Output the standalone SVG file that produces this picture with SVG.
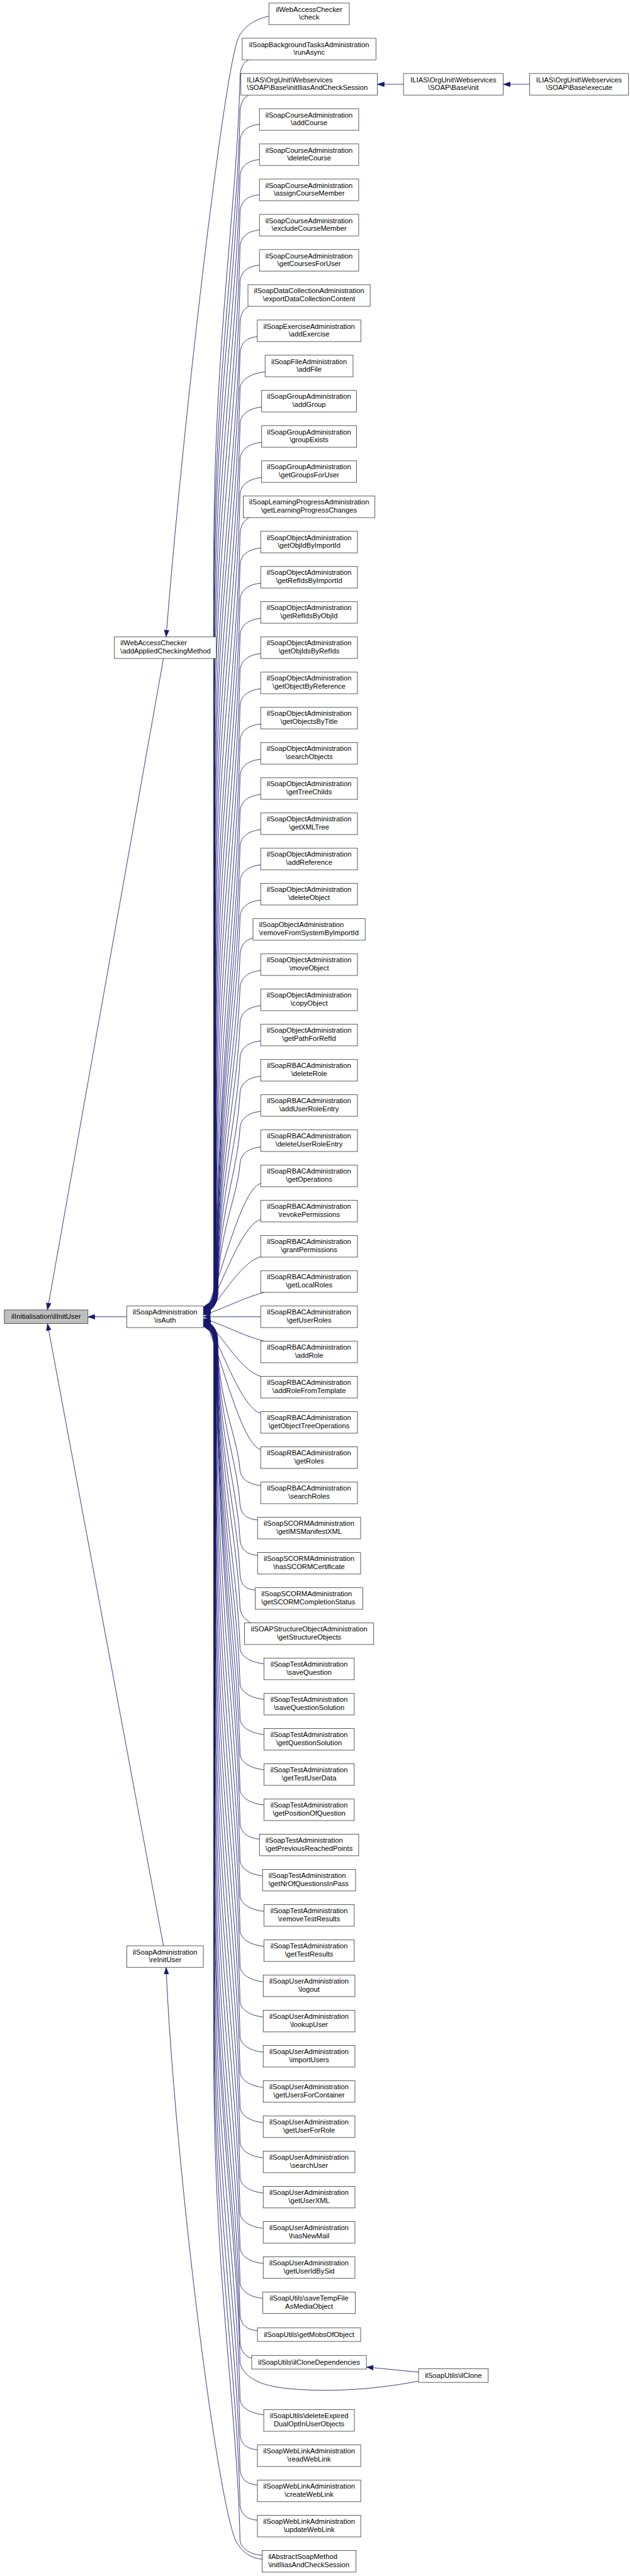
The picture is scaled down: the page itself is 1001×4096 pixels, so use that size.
<svg xmlns="http://www.w3.org/2000/svg" width="1001" height="4096" viewBox="0 0 1001 4096">
<style>
.nd rect{fill:#fff;stroke:#404040;stroke-width:1}
.rt rect{fill:#bfbfbf}
.nd text{font-family:"Liberation Sans",Arial,Helvetica,sans-serif;font-size:13.1px;fill:#000;text-anchor:middle}
.nd text.l{text-anchor:start}
#edges path{fill:none;stroke:#191970;stroke-width:1;marker-end:url(#ah)}
</style>
<defs>
<marker id="ah" viewBox="0 0 10 7" refX="10" refY="3.5" markerWidth="13" markerHeight="9.1" markerUnits="userSpaceOnUse" orient="auto">
<path d="M0,0L10,3.5L0,7z" fill="#191970" stroke="#191970" stroke-width="0.5"/>
</marker>
</defs>
<rect width="1001" height="4096" fill="#fff"/>
<g transform="scale(0.85705)">
<g id="edges">
<path d="M982,156.4L933,156.4"/>
<path d="M748,156.4L699.5,156.4"/>
<path d="M498.5,30C470,36 448,52 440,75C410,170 336,820 308,1181.7"/>
<path d="M303,1221.7L88,2430.3"/>
<path d="M235,2443L163,2443"/>
<path d="M303,3610L88,2455.6"/>
<path d="M486,4748C460,4746 440,4728 432,4700C390,4560 320,3950 308,3650"/>
<path d="M776,4401L679.3,4391.5"/>
<path d="M461,111C452,116 446,124 445,141C440,384 396.3,636 396.3,1041L396.3,2385C396.3,2410 390,2421 377,2425"/>
<path d="M461,176.4C452,181.4 446,189.4 445,206.4C440,449.4 396.5,701.4 396.5,1106.4L396.5,2385.4C396.5,2410.4 390,2421.4 377,2425.4"/>
<path d="M481,230.7C459,232.7 447,242.7 445,260.7C440,503.7 396.8,755.7 396.8,1160.7L396.8,2385.8C396.8,2410.8 390,2421.8 377,2425.8"/>
<path d="M481,296C459,298 447,308 445,326C440,569 397,821 397,1226L397,2386.2C397,2411.2 390,2422.2 377,2426.2"/>
<path d="M481,361.3C459,363.3 447,373.3 445,391.3C440,634.3 397.3,886.3 397.3,1291.3L397.3,2386.6C397.3,2411.6 390,2422.6 377,2426.6"/>
<path d="M481,426.7C459,428.7 447,438.7 445,456.7C440,699.7 397.5,951.7 397.5,1356.7L397.5,2387C397.5,2412 390,2423 377,2427"/>
<path d="M481,492C459,494 447,504 445,522C440,765 397.8,1017 397.8,1422L397.8,2387.4C397.8,2412.4 390,2423.4 377,2427.4"/>
<path d="M461,568.3C452,573.3 446,581.3 445,598.3C440,841.3 398,1093.3 398,1498.3L398,2387.8C398,2412.8 390,2423.8 377,2427.8"/>
<path d="M477,624.7C455,626.7 447,636.7 445,654.7C440,897.7 398.3,1149.7 398.3,1554.7L398.3,2388.2C398.3,2413.2 390,2424.2 377,2428.2"/>
<path d="M491.5,690C469.5,692 447,702 445,720C440,963 398.5,1215 398.5,1620L398.5,2388.6C398.5,2413.6 390,2424.6 377,2428.6"/>
<path d="M485,755.3C463,757.3 447,767.3 445,785.3C440,1028.3 398.8,1280.3 398.8,1685.3L398.8,2389C398.8,2414 390,2425 377,2429"/>
<path d="M485,820.7C463,822.7 447,832.7 445,850.7C440,1093.7 399,1345.7 399,1750.7L399,2389.4C399,2414.4 390,2425.4 377,2429.4"/>
<path d="M485,886C463,888 447,898 445,916C440,1159 399.3,1411 399.3,1816L399.3,2389.8C399.3,2414.8 390,2425.8 377,2429.8"/>
<path d="M462,960.3C453,965.3 446,973.3 445,990.3C440,1233.3 399.5,1485.3 399.5,1890.3L399.5,2390.2C399.5,2415.2 390,2426.2 377,2430.2"/>
<path d="M483.3,1016.7C461.3,1018.7 447,1028.7 445,1046.7C440,1289.7 399.8,1541.7 399.8,1946.7L399.8,2390.6C399.8,2415.6 390,2426.6 377,2430.6"/>
<path d="M483.3,1082C461.3,1084 447,1094 445,1112C440,1355 400,1607 400,2012L400,2391C400,2416 390,2427 377,2431"/>
<path d="M483.3,1147.3C461.3,1149.3 447,1159.3 445,1177.3C440,1420.3 400.3,1672.3 400.3,2077.3L400.3,2391.4C400.3,2416.4 390,2427.4 377,2431.4"/>
<path d="M483.3,1212.7C461.3,1214.7 447,1224.7 445,1242.7C440,1485.7 400.5,1737.7 400.5,2142.7L400.5,2391.8C400.5,2416.8 390,2427.8 377,2431.8"/>
<path d="M483.3,1278C461.3,1280 447,1290 445,1308C440,1551 400.8,1803 400.8,2208L400.8,2392.2C400.8,2417.2 390,2428.2 377,2432.2"/>
<path d="M483.3,1343.3C461.3,1345.3 447,1355.3 445,1373.3C440,1616.3 401,1868.3 401,2273.3L401,2392.6C401,2417.6 390,2428.6 377,2432.6"/>
<path d="M483.3,1408.7C461.3,1410.7 447,1420.7 445,1438.7C440,1681.7 401.3,1933.7 401.3,2338.7L401.3,2393C401.3,2418 390,2429 377,2433"/>
<path d="M483.3,1474C461.3,1476 447,1486 445,1504C440,1744.1 401.5,1993.2 401.5,2393.4C401.5,2418.4 390,2429.4 377,2433.4"/>
<path d="M483.3,1539.3C461.3,1541.3 447,1551.3 445,1569.3C440,1791.9 401.8,2022.8 401.8,2393.8C401.8,2418.8 390,2429.8 377,2433.8"/>
<path d="M483.3,1604.7C461.3,1606.7 447,1616.7 445,1634.7C440,1839.8 402,2052.4 402,2394.2C402,2419.2 390,2430.2 377,2434.2"/>
<path d="M483.3,1670C461.3,1672 447,1682 445,1700C440,1887.5 402.3,2082 402.3,2394.6C402.3,2419.6 390,2430.6 377,2434.6"/>
<path d="M469,1740C455,1744 447,1752 445,1770C440,1938.8 402.5,2113.8 402.5,2395C402.5,2420 390,2431 377,2435"/>
<path d="M483.3,1800.7C461.3,1802.7 447,1812.7 445,1830.7C440,1983.2 402.8,2141.3 402.8,2395.4C402.8,2420.4 390,2431.4 377,2435.4"/>
<path d="M483.3,1866C461.3,1868 447,1878 445,1896C440,2031 403,2170.9 403,2395.8C403,2420.8 390,2431.8 377,2435.8"/>
<path d="M483.3,1931.3C461.3,1933.3 447,1943.3 445,1961.3C440,2078.7 403.3,2200.5 403.3,2396.2C403.3,2421.2 390,2432.2 377,2436.2"/>
<path d="M483.3,1996.7C461.3,1998.7 447,2008.7 445,2026.7C440,2126.6 403.5,2230.1 403.5,2396.6C403.5,2421.6 390,2432.6 377,2436.6"/>
<path d="M483.3,2062C461.3,2064 447,2074 445,2092C440,2174.4 403.8,2259.8 403.8,2397C403.8,2422 390,2433 377,2437"/>
<path d="M483.3,2128C461.3,2130 447,2140 445,2158C440,2222.6 404,2289.7 404,2397.4C404,2422.4 390,2433.4 377,2437.4"/>
<path d="M483.3,2195.7C443.3,2205.7 400,2413.6 377,2437.8"/>
<path d="M483.3,2262.7C443.3,2272.7 400,2420.6 377,2438.2"/>
<path d="M483.3,2331.7C443.3,2341.7 400,2427.9 377,2438.6"/>
<path d="M490,2397.7C450,2407.7 400,2434.9 377,2439"/>
<path d="M483.3,2443L377,2443"/>
<path d="M490,2488.3C450,2478.3 400,2451.1 377,2447"/>
<path d="M484,2553.7C444,2543.7 400,2458 377,2447.4"/>
<path d="M483.3,2622C443.3,2612 400,2465.2 377,2447.8"/>
<path d="M483.3,2689.3C443.3,2679.3 400,2472.3 377,2448.2"/>
<path d="M483.3,2756C461.3,2754 447,2744 445,2728C440,2663.4 403.8,2596.3 403.8,2488.6C403.8,2463.6 390,2452.6 377,2448.6"/>
<path d="M477.5,2820C455.5,2818 447,2808 445,2792C440,2710.2 403.5,2625.3 403.5,2489C403.5,2464 390,2453 377,2449"/>
<path d="M477.5,2885.6C455.5,2883.6 447,2873.6 445,2857.6C440,2758.2 403.3,2655.1 403.3,2489.4C403.3,2464.4 390,2453.4 377,2449.4"/>
<path d="M473.3,2950C451.3,2948 447,2938 445,2922C440,2805.3 403,2684.3 403,2489.8C403,2464.8 390,2453.8 377,2449.8"/>
<path d="M465,3011C455,3005 447,2998 445,2983C440,2849.9 402.8,2712 402.8,2490.2C402.8,2465.2 390,2454.2 377,2450.2"/>
<path d="M489.3,3086.7C467.3,3084.7 447,3074.7 445,3058.7C440,2905.3 402.5,2746.2 402.5,2490.6C402.5,2465.6 390,2454.6 377,2450.6"/>
<path d="M489.3,3152.7C467.3,3150.7 447,3140.7 445,3124.7C440,2953.6 402.3,2776.2 402.3,2491C402.3,2466 390,2455 377,2451"/>
<path d="M489.3,3218C467.3,3216 447,3206 445,3190C440,3001.4 402,2805.8 402,2491.4C402,2466.4 390,2455.4 377,2451.4"/>
<path d="M489.3,3283.3C467.3,3281.3 447,3271.3 445,3255.3C440,3049.2 401.8,2835.4 401.8,2491.8C401.8,2466.8 390,2455.8 377,2451.8"/>
<path d="M489.3,3348.7C467.3,3346.7 447,3336.7 445,3320.7C440,3097 401.5,2865 401.5,2492.2C401.5,2467.2 390,2456.2 377,2452.2"/>
<path d="M481,3412C459,3410 447,3400 445,3384C440,3143.3 401.3,2893.7 401.3,2492.6C401.3,2467.6 390,2456.6 377,2452.6"/>
<path d="M486.7,3480C464.7,3478 447,3468 445,3452C440,3209 401,2957 401,2552L401,2493C401,2468 390,2457 377,2453"/>
<path d="M489.3,3546C467.3,3544 447,3534 445,3518C440,3275 400.8,3023 400.8,2618L400.8,2493.4C400.8,2468.4 390,2457.4 377,2453.4"/>
<path d="M489.3,3611C467.3,3609 447,3599 445,3583C440,3340 400.5,3088 400.5,2683L400.5,2493.8C400.5,2468.8 390,2457.8 377,2453.8"/>
<path d="M488,3676.6C466,3674.6 447,3664.6 445,3648.6C440,3405.6 400.3,3153.6 400.3,2748.6L400.3,2494.2C400.3,2469.2 390,2458.2 377,2454.2"/>
<path d="M488,3742C466,3740 447,3730 445,3714C440,3471 400,3219 400,2814L400,2494.6C400,2469.6 390,2458.6 377,2454.6"/>
<path d="M488,3807.3C466,3805.3 447,3795.3 445,3779.3C440,3536.3 399.8,3284.3 399.8,2879.3L399.8,2495C399.8,2470 390,2459 377,2455"/>
<path d="M488,3872.6C466,3870.6 447,3860.6 445,3844.6C440,3601.6 399.5,3349.6 399.5,2944.6L399.5,2495.4C399.5,2470.4 390,2459.4 377,2455.4"/>
<path d="M488,3938C466,3936 447,3926 445,3910C440,3667 399.3,3415 399.3,3010L399.3,2495.8C399.3,2470.8 390,2459.8 377,2455.8"/>
<path d="M488,4003.3C466,4001.3 447,3991.3 445,3975.3C440,3732.3 399,3480.3 399,3075.3L399,2496.2C399,2471.2 390,2460.2 377,2456.2"/>
<path d="M488,4068.6C466,4066.6 447,4056.6 445,4040.6C440,3797.6 398.8,3545.6 398.8,3140.6L398.8,2496.6C398.8,2471.6 390,2460.6 377,2456.6"/>
<path d="M488,4134C466,4132 447,4122 445,4106C440,3863 398.5,3611 398.5,3206L398.5,2497C398.5,2472 390,2461 377,2457"/>
<path d="M488,4199.3C466,4197.3 447,4187.3 445,4171.3C440,3928.3 398.3,3676.3 398.3,3271.3L398.3,2497.4C398.3,2472.4 390,2461.4 377,2457.4"/>
<path d="M487.3,4264C465.3,4262 447,4252 445,4236C440,3993 398,3741 398,3336L398,2497.8C398,2472.8 390,2461.8 377,2457.8"/>
<path d="M477.3,4324C455.3,4322 447,4312 445,4296C440,4053 397.8,3801 397.8,3396L397.8,2498.2C397.8,2473.2 390,2462.2 377,2458.2"/>
<path d="M466.7,4375C455,4373 447,4363 445,4347C440,4104 397.5,3852 397.5,3447L397.5,2498.6C397.5,2473.6 390,2462.6 377,2458.6"/>
<path d="M776,4417.7C690,4434 610,4438 540,4432C490,4428 455,4415 445,4385C440,4142 397.4,3890 397.4,3485L397.4,2498.8C397.4,2473.8 390,2462.8 377,2458.8"/>
<path d="M489,4480C467,4478 447,4468 445,4452C440,4209 397.3,3957 397.3,3552L397.3,2499C397.3,2474 390,2463 377,2459"/>
<path d="M477.2,4545C455.2,4543 447,4533 445,4517C440,4274 397,4022 397,3617L397,2499.4C397,2474.4 390,2463.4 377,2459.4"/>
<path d="M477.2,4610.3C455.2,4608.3 447,4598.3 445,4582.3C440,4339.3 396.8,4087.3 396.8,3682.3L396.8,2499.8C396.8,2474.8 390,2463.8 377,2459.8"/>
<path d="M477.2,4675.7C455.2,4673.7 447,4663.7 445,4647.7C440,4404.7 396.5,4152.7 396.5,3747.7L396.5,2500.2C396.5,2475.2 390,2464.2 377,2460.2"/>
<path d="M486,4741C464,4739 447,4729 445,4713C440,4470 396.3,4218 396.3,3813L396.3,2500.6C396.3,2475.6 390,2464.6 377,2460.6"/>
</g>
<g id="nRoot" class="nd rt"><rect x="8" y="2430.3" width="155" height="25.3"/><text x="85.5" y="2447.3">ilInitialisation\ilInitUser</text></g>
<g id="nAddApplied" class="nd"><rect x="212" y="1181.7" width="189" height="40"/><text class="l" x="223.2" y="1197.7">ilWebAccessChecker</text><text class="l" x="223.2" y="1212.2">\addAppliedCheckingMethod</text></g>
<g id="nIsAuth" class="nd"><rect x="235" y="2423" width="142" height="40"/><text x="306" y="2439">ilSoapAdministration</text><text x="306" y="2453.5">\isAuth</text></g>
<g id="nReInit" class="nd"><rect x="235" y="3610" width="142" height="40"/><text x="306" y="3626">ilSoapAdministration</text><text x="306" y="3640.5">\reInitUser</text></g>
<g id="nInit" class="nd"><rect x="748" y="136.4" width="185" height="40"/><text x="840.5" y="152.4">ILIAS\OrgUnit\Webservices</text><text x="840.5" y="166.9">\SOAP\Base\init</text></g>
<g id="nExecute" class="nd"><rect x="982" y="136.4" width="183" height="40"/><text x="1073.5" y="152.4">ILIAS\OrgUnit\Webservices</text><text x="1073.5" y="166.9">\SOAP\Base\execute</text></g>
<g id="nClone" class="nd"><rect x="776" y="4394.7" width="129" height="25.3"/><text x="840.5" y="4411.7">ilSoapUtils\ilClone</text></g>
<g id="n0" class="nd"><rect x="498.5" y="5.7" width="149" height="40"/><text x="573" y="21.7">ilWebAccessChecker</text><text x="573" y="36.2">\check</text></g>
<g id="n1" class="nd"><rect x="449" y="71" width="248" height="40"/><text x="573" y="87">ilSoapBackgroundTasksAdministration</text><text x="573" y="101.5">\runAsync</text></g>
<g id="n2" class="nd"><rect x="446.5" y="136.4" width="253" height="40"/><text class="l" x="457.7" y="152.4">ILIAS\OrgUnit\Webservices</text><text class="l" x="457.7" y="166.9">\SOAP\Base\initIliasAndCheckSession</text></g>
<g id="n3" class="nd"><rect x="481" y="201.7" width="184" height="40"/><text x="573" y="217.7">ilSoapCourseAdministration</text><text x="573" y="232.2">\addCourse</text></g>
<g id="n4" class="nd"><rect x="481" y="267" width="184" height="40"/><text x="573" y="283">ilSoapCourseAdministration</text><text x="573" y="297.5">\deleteCourse</text></g>
<g id="n5" class="nd"><rect x="481" y="332.3" width="184" height="40"/><text x="573" y="348.3">ilSoapCourseAdministration</text><text x="573" y="362.8">\assignCourseMember</text></g>
<g id="n6" class="nd"><rect x="481" y="397.7" width="184" height="40"/><text x="573" y="413.7">ilSoapCourseAdministration</text><text x="573" y="428.2">\excludeCourseMember</text></g>
<g id="n7" class="nd"><rect x="481" y="463" width="184" height="40"/><text x="573" y="479">ilSoapCourseAdministration</text><text x="573" y="493.5">\getCoursesForUser</text></g>
<g id="n8" class="nd"><rect x="459.7" y="528.3" width="226.6" height="40"/><text x="573" y="544.3">ilSoapDataCollectionAdministration</text><text x="573" y="558.8">\exportDataCollectionContent</text></g>
<g id="n9" class="nd"><rect x="477" y="593.7" width="192" height="40"/><text x="573" y="609.7">ilSoapExerciseAdministration</text><text x="573" y="624.2">\addExercise</text></g>
<g id="n10" class="nd"><rect x="491.5" y="659" width="163" height="40"/><text x="573" y="675">ilSoapFileAdministration</text><text x="573" y="689.5">\addFile</text></g>
<g id="n11" class="nd"><rect x="485" y="724.3" width="176" height="40"/><text x="573" y="740.3">ilSoapGroupAdministration</text><text x="573" y="754.8">\addGroup</text></g>
<g id="n12" class="nd"><rect x="485" y="789.7" width="176" height="40"/><text x="573" y="805.7">ilSoapGroupAdministration</text><text x="573" y="820.2">\groupExists</text></g>
<g id="n13" class="nd"><rect x="485" y="855" width="176" height="40"/><text x="573" y="871">ilSoapGroupAdministration</text><text x="573" y="885.5">\getGroupsForUser</text></g>
<g id="n14" class="nd"><rect x="451" y="920.3" width="244" height="40"/><text x="573" y="936.3">ilSoapLearningProgressAdministration</text><text x="573" y="950.8">\getLearningProgressChanges</text></g>
<g id="n15" class="nd"><rect x="483.3" y="985.7" width="179.4" height="40"/><text x="573" y="1001.7">ilSoapObjectAdministration</text><text x="573" y="1016.2">\getObjIdByImportId</text></g>
<g id="n16" class="nd"><rect x="483.3" y="1051" width="179.4" height="40"/><text x="573" y="1067">ilSoapObjectAdministration</text><text x="573" y="1081.5">\getRefIdsByImportId</text></g>
<g id="n17" class="nd"><rect x="483.3" y="1116.3" width="179.4" height="40"/><text x="573" y="1132.3">ilSoapObjectAdministration</text><text x="573" y="1146.8">\getRefIdsByObjId</text></g>
<g id="n18" class="nd"><rect x="483.3" y="1181.7" width="179.4" height="40"/><text x="573" y="1197.7">ilSoapObjectAdministration</text><text x="573" y="1212.2">\getObjIdsByRefIds</text></g>
<g id="n19" class="nd"><rect x="483.3" y="1247" width="179.4" height="40"/><text x="573" y="1263">ilSoapObjectAdministration</text><text x="573" y="1277.5">\getObjectByReference</text></g>
<g id="n20" class="nd"><rect x="483.3" y="1312.3" width="179.4" height="40"/><text x="573" y="1328.3">ilSoapObjectAdministration</text><text x="573" y="1342.8">\getObjectsByTitle</text></g>
<g id="n21" class="nd"><rect x="483.3" y="1377.7" width="179.4" height="40"/><text x="573" y="1393.7">ilSoapObjectAdministration</text><text x="573" y="1408.2">\searchObjects</text></g>
<g id="n22" class="nd"><rect x="483.3" y="1443" width="179.4" height="40"/><text x="573" y="1459">ilSoapObjectAdministration</text><text x="573" y="1473.5">\getTreeChilds</text></g>
<g id="n23" class="nd"><rect x="483.3" y="1508.3" width="179.4" height="40"/><text x="573" y="1524.3">ilSoapObjectAdministration</text><text x="573" y="1538.8">\getXMLTree</text></g>
<g id="n24" class="nd"><rect x="483.3" y="1573.7" width="179.4" height="40"/><text x="573" y="1589.7">ilSoapObjectAdministration</text><text x="573" y="1604.2">\addReference</text></g>
<g id="n25" class="nd"><rect x="483.3" y="1639" width="179.4" height="40"/><text x="573" y="1655">ilSoapObjectAdministration</text><text x="573" y="1669.5">\deleteObject</text></g>
<g id="n26" class="nd"><rect x="469" y="1704.3" width="208" height="40"/><text class="l" x="480.2" y="1720.3">ilSoapObjectAdministration</text><text class="l" x="480.2" y="1734.8">\removeFromSystemByImportId</text></g>
<g id="n27" class="nd"><rect x="483.3" y="1769.7" width="179.4" height="40"/><text x="573" y="1785.7">ilSoapObjectAdministration</text><text x="573" y="1800.2">\moveObject</text></g>
<g id="n28" class="nd"><rect x="483.3" y="1835" width="179.4" height="40"/><text x="573" y="1851">ilSoapObjectAdministration</text><text x="573" y="1865.5">\copyObject</text></g>
<g id="n29" class="nd"><rect x="483.3" y="1900.3" width="179.4" height="40"/><text x="573" y="1916.3">ilSoapObjectAdministration</text><text x="573" y="1930.8">\getPathForRefId</text></g>
<g id="n30" class="nd"><rect x="483.3" y="1965.7" width="179.4" height="40"/><text x="573" y="1981.7">ilSoapRBACAdministration</text><text x="573" y="1996.2">\deleteRole</text></g>
<g id="n31" class="nd"><rect x="483.3" y="2031" width="179.4" height="40"/><text x="573" y="2047">ilSoapRBACAdministration</text><text x="573" y="2061.5">\addUserRoleEntry</text></g>
<g id="n32" class="nd"><rect x="483.3" y="2096.3" width="179.4" height="40"/><text x="573" y="2112.3">ilSoapRBACAdministration</text><text x="573" y="2126.8">\deleteUserRoleEntry</text></g>
<g id="n33" class="nd"><rect x="483.3" y="2161.7" width="179.4" height="40"/><text x="573" y="2177.7">ilSoapRBACAdministration</text><text x="573" y="2192.2">\getOperations</text></g>
<g id="n34" class="nd"><rect x="483.3" y="2227" width="179.4" height="40"/><text x="573" y="2243">ilSoapRBACAdministration</text><text x="573" y="2257.5">\revokePermissions</text></g>
<g id="n35" class="nd"><rect x="483.3" y="2292.3" width="179.4" height="40"/><text x="573" y="2308.3">ilSoapRBACAdministration</text><text x="573" y="2322.8">\grantPermissions</text></g>
<g id="n36" class="nd"><rect x="483.3" y="2357.7" width="179.4" height="40"/><text x="573" y="2373.7">ilSoapRBACAdministration</text><text x="573" y="2388.2">\getLocalRoles</text></g>
<g id="n37" class="nd"><rect x="483.3" y="2423" width="179.4" height="40"/><text x="573" y="2439">ilSoapRBACAdministration</text><text x="573" y="2453.5">\getUserRoles</text></g>
<g id="n38" class="nd"><rect x="483.3" y="2488.3" width="179.4" height="40"/><text x="573" y="2504.3">ilSoapRBACAdministration</text><text x="573" y="2518.8">\addRole</text></g>
<g id="n39" class="nd"><rect x="483.3" y="2553.7" width="179.4" height="40"/><text x="573" y="2569.7">ilSoapRBACAdministration</text><text x="573" y="2584.2">\addRoleFromTemplate</text></g>
<g id="n40" class="nd"><rect x="483.3" y="2619" width="179.4" height="40"/><text x="573" y="2635">ilSoapRBACAdministration</text><text x="573" y="2649.5">\getObjectTreeOperations</text></g>
<g id="n41" class="nd"><rect x="483.3" y="2684.3" width="179.4" height="40"/><text x="573" y="2700.3">ilSoapRBACAdministration</text><text x="573" y="2714.8">\getRoles</text></g>
<g id="n42" class="nd"><rect x="483.3" y="2749.7" width="179.4" height="40"/><text x="573" y="2765.7">ilSoapRBACAdministration</text><text x="573" y="2780.2">\searchRoles</text></g>
<g id="n43" class="nd"><rect x="477.5" y="2815" width="191" height="40"/><text x="573" y="2831">ilSoapSCORMAdministration</text><text x="573" y="2845.5">\getIMSManifestXML</text></g>
<g id="n44" class="nd"><rect x="477.5" y="2880.3" width="191" height="40"/><text x="573" y="2896.3">ilSoapSCORMAdministration</text><text x="573" y="2910.8">\hasSCORMCertificate</text></g>
<g id="n45" class="nd"><rect x="473.3" y="2945.7" width="199.4" height="40"/><text class="l" x="484.5" y="2961.7">ilSoapSCORMAdministration</text><text class="l" x="484.5" y="2976.2">\getSCORMCompletionStatus</text></g>
<g id="n46" class="nd"><rect x="453.3" y="3011" width="239.4" height="40"/><text x="573" y="3027">ilSOAPStructureObjectAdministration</text><text x="573" y="3041.5">\getStructureObjects</text></g>
<g id="n47" class="nd"><rect x="489.3" y="3076.3" width="167.4" height="40"/><text x="573" y="3092.3">ilSoapTestAdministration</text><text x="573" y="3106.8">\saveQuestion</text></g>
<g id="n48" class="nd"><rect x="489.3" y="3141.7" width="167.4" height="40"/><text x="573" y="3157.7">ilSoapTestAdministration</text><text x="573" y="3172.2">\saveQuestionSolution</text></g>
<g id="n49" class="nd"><rect x="489.3" y="3207" width="167.4" height="40"/><text x="573" y="3223">ilSoapTestAdministration</text><text x="573" y="3237.5">\getQuestionSolution</text></g>
<g id="n50" class="nd"><rect x="489.3" y="3272.3" width="167.4" height="40"/><text x="573" y="3288.3">ilSoapTestAdministration</text><text x="573" y="3302.8">\getTestUserData</text></g>
<g id="n51" class="nd"><rect x="489.3" y="3337.7" width="167.4" height="40"/><text x="573" y="3353.7">ilSoapTestAdministration</text><text x="573" y="3368.2">\getPositionOfQuestion</text></g>
<g id="n52" class="nd"><rect x="481" y="3403" width="184" height="40"/><text class="l" x="492.2" y="3419">ilSoapTestAdministration</text><text class="l" x="492.2" y="3433.5">\getPreviousReachedPoints</text></g>
<g id="n53" class="nd"><rect x="486.7" y="3468.3" width="172.6" height="40"/><text class="l" x="497.9" y="3484.3">ilSoapTestAdministration</text><text class="l" x="497.9" y="3498.8">\getNrOfQuestionsInPass</text></g>
<g id="n54" class="nd"><rect x="489.3" y="3533.7" width="167.4" height="40"/><text x="573" y="3549.7">ilSoapTestAdministration</text><text x="573" y="3564.2">\removeTestResults</text></g>
<g id="n55" class="nd"><rect x="489.3" y="3599" width="167.4" height="40"/><text x="573" y="3615">ilSoapTestAdministration</text><text x="573" y="3629.5">\getTestResults</text></g>
<g id="n56" class="nd"><rect x="488" y="3664.3" width="170" height="40"/><text x="573" y="3680.3">ilSoapUserAdministration</text><text x="573" y="3694.8">\logout</text></g>
<g id="n57" class="nd"><rect x="488" y="3729.7" width="170" height="40"/><text x="573" y="3745.7">ilSoapUserAdministration</text><text x="573" y="3760.2">\lookupUser</text></g>
<g id="n58" class="nd"><rect x="488" y="3795" width="170" height="40"/><text x="573" y="3811">ilSoapUserAdministration</text><text x="573" y="3825.5">\importUsers</text></g>
<g id="n59" class="nd"><rect x="488" y="3860.3" width="170" height="40"/><text x="573" y="3876.3">ilSoapUserAdministration</text><text x="573" y="3890.8">\getUsersForContainer</text></g>
<g id="n60" class="nd"><rect x="488" y="3925.7" width="170" height="40"/><text x="573" y="3941.7">ilSoapUserAdministration</text><text x="573" y="3956.2">\getUserForRole</text></g>
<g id="n61" class="nd"><rect x="488" y="3991" width="170" height="40"/><text x="573" y="4007">ilSoapUserAdministration</text><text x="573" y="4021.5">\searchUser</text></g>
<g id="n62" class="nd"><rect x="488" y="4056.3" width="170" height="40"/><text x="573" y="4072.3">ilSoapUserAdministration</text><text x="573" y="4086.8">\getUserXML</text></g>
<g id="n63" class="nd"><rect x="488" y="4121.7" width="170" height="40"/><text x="573" y="4137.7">ilSoapUserAdministration</text><text x="573" y="4152.2">\hasNewMail</text></g>
<g id="n64" class="nd"><rect x="488" y="4187" width="170" height="40"/><text x="573" y="4203">ilSoapUserAdministration</text><text x="573" y="4217.5">\getUserIdBySid</text></g>
<g id="n65" class="nd"><rect x="487.3" y="4252.3" width="171.4" height="40"/><text x="573" y="4268.3">ilSoapUtils\saveTempFile</text><text x="573" y="4282.8">AsMediaObject</text></g>
<g id="n66" class="nd"><rect x="477.3" y="4318.7" width="191.4" height="25.3"/><text x="573" y="4335.7">ilSoapUtils\getMobsOfObject</text></g>
<g id="n67" class="nd"><rect x="466.7" y="4370" width="212.6" height="25.3"/><text x="573" y="4387">ilSoapUtils\ilCloneDependencies</text></g>
<g id="n68" class="nd"><rect x="489" y="4470.7" width="168" height="40"/><text x="573" y="4486.7">ilSoapUtils\deleteExpired</text><text x="573" y="4501.2">DualOptInUserObjects</text></g>
<g id="n69" class="nd"><rect x="477.2" y="4536" width="191.6" height="40"/><text x="573" y="4552">ilSoapWebLinkAdministration</text><text x="573" y="4566.5">\readWebLink</text></g>
<g id="n70" class="nd"><rect x="477.2" y="4601.3" width="191.6" height="40"/><text x="573" y="4617.3">ilSoapWebLinkAdministration</text><text x="573" y="4631.8">\createWebLink</text></g>
<g id="n71" class="nd"><rect x="477.2" y="4666.7" width="191.6" height="40"/><text x="573" y="4682.7">ilSoapWebLinkAdministration</text><text x="573" y="4697.2">\updateWebLink</text></g>
<g id="n72" class="nd"><rect x="486" y="4732" width="174" height="40"/><text class="l" x="497.2" y="4748">ilAbstractSoapMethod</text><text class="l" x="497.2" y="4762.5">\initIliasAndCheckSession</text></g>
</g>
</svg>
